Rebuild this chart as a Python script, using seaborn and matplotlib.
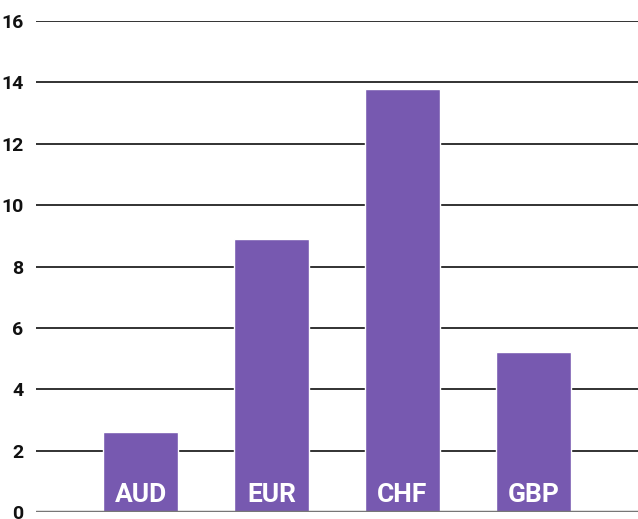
import matplotlib
matplotlib.use("Agg")
import matplotlib.pyplot as plt
import pandas as pd
import seaborn as sns

currencies = ["AUD", "EUR", "CHF", "GBP"]
values = [2.6, 8.9, 13.8, 5.2]
yticks = [0, 2, 4, 6, 8, 10, 12, 14, 16]

bar_color = "#7759B0"

sns.set_theme(style="white")
plt.rcParams["font.family"] = ["Roboto", "DejaVu Sans"]

df = pd.DataFrame({"currency": currencies, "value": values})

fig = plt.figure(figsize=(6.38, 5.19), dpi=100)
ax = fig.add_axes([36 / 638, 7 / 519, 1 - 36 / 638, 491 / 519])

# gridlines behind bars
for t in yticks[1:]:
    ax.axhline(t, color="#222222", lw=1.3, zorder=0)
ax.axhline(0, color="#777777", lw=2.5, zorder=3)

sns.barplot(data=df, x="currency", y="value", color=bar_color,
            saturation=1, width=0.574, ax=ax, zorder=2)

# labels inside the bars
for i, name in enumerate(currencies):
    ax.text(i, 0.33, name, ha="center", va="baseline", color="white",
            fontsize=19, fontweight="bold", zorder=4)

ax.set_xlim(-0.8, 3.8)
ax.set_ylim(0, 16)
ax.set_yticks(yticks)
ax.set_yticklabels([str(t) for t in yticks], fontsize=14, fontweight="bold",
                   color="#111111")
ax.tick_params(axis="y", length=0, pad=9)
ax.set_xticks([])
ax.set_xlabel("")
ax.set_ylabel("")
for s in ax.spines.values():
    s.set_visible(False)

fig.savefig("out.png", dpi=100)
